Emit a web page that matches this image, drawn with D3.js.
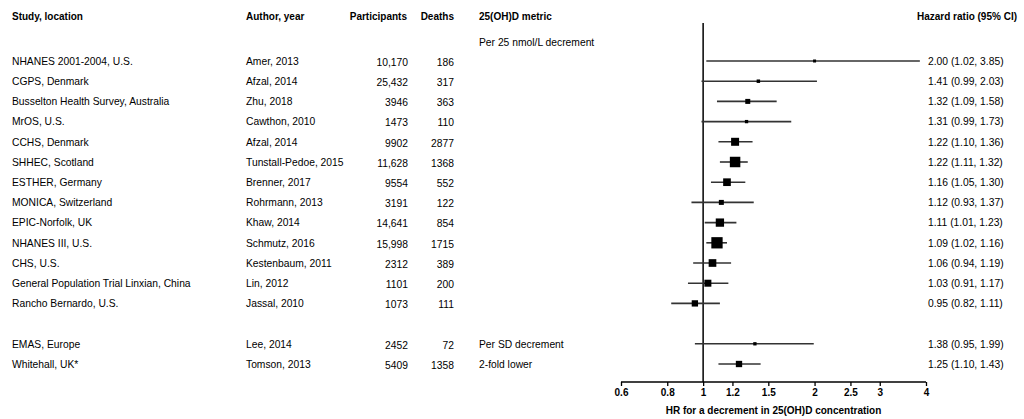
<!DOCTYPE html>
<html>
<head>
<meta charset="utf-8">
<script src="https://cdn.jsdelivr.net/npm/d3@7"></script>
<style>
  html, body { margin: 0; padding: 0; background: #fff; }
  svg { display: block; }
  text { font-family: "Liberation Sans", Arial, Helvetica, sans-serif; fill: #000; }
</style>
</head>
<body>
<svg id="chart" width="1024" height="419"></svg>
<script>
// ---- Data ----
const studies = [
  "NHANES 2001-2004, U.S.", "CGPS, Denmark", "Busselton Health Survey, Australia",
  "MrOS, U.S.", "CCHS, Denmark", "SHHEC, Scotland", "ESTHER, Germany",
  "MONICA, Switzerland", "EPIC-Norfolk, UK", "NHANES III, U.S.", "CHS, U.S.",
  "General Population Trial Linxian, China", "Rancho Bernardo, U.S.",
  "EMAS, Europe", "Whitehall, UK*"
];
const authors = [
  "Amer, 2013", "Afzal, 2014", "Zhu, 2018", "Cawthon, 2010", "Afzal, 2014",
  "Tunstall-Pedoe, 2015", "Brenner, 2017", "Rohrmann, 2013", "Khaw, 2014",
  "Schmutz, 2016", "Kestenbaum, 2011", "Lin, 2012", "Jassal, 2010",
  "Lee, 2014", "Tomson, 2013"
];
const participants = [10170, 25432, 3946, 1473, 9902, 11628, 9554, 3191, 14641, 15998, 2312, 1101, 1073, 2452, 5409];
const deaths = [186, 317, 363, 110, 2877, 1368, 552, 122, 854, 1715, 389, 200, 111, 72, 1358];
const hr = [2.00, 1.41, 1.32, 1.31, 1.22, 1.22, 1.16, 1.12, 1.11, 1.09, 1.06, 1.03, 0.95, 1.38, 1.25];
const lo = [1.02, 0.99, 1.09, 0.99, 1.10, 1.11, 1.05, 0.93, 1.01, 1.02, 0.94, 0.91, 0.82, 0.95, 1.10];
const hi = [3.85, 2.03, 1.58, 1.73, 1.36, 1.32, 1.30, 1.37, 1.23, 1.16, 1.19, 1.17, 1.11, 1.99, 1.43];
// relative study weight (marker area)
const weights = [0.9, 1.2, 2.5, 1.1, 6.4, 11.0, 5.9, 2.5, 6.9, 12.8, 5.9, 4.9, 4.0, 1.1, 4.0];
// row slot of each study (a blank slot separates the two groups)
const rowSlot = [0, 1, 2, 3, 4, 5, 6, 7, 8, 9, 10, 11, 12, 14, 15];
const metricLabels = [
  { slot: -1, text: "Per 25 nmol/L decrement" },
  { slot: 14, text: "Per SD decrement" },
  { slot: 15, text: "2-fold lower" }
];
const headers = ["Study, location", "Author, year", "Participants", "Deaths", "25(OH)D metric", "Hazard ratio (95% CI)"];
const tickValues = [0.6, 0.8, 1, 1.2, 1.5, 2, 2.5, 3, 4];
const axisTitle = "HR for a decrement in 25(OH)D concentration";

// ---- Layout ----
const svg = d3.select("#chart");
const x = d3.scaleLog().domain([0.6, 4]).range([621, 926]);
const y = d3.scaleLinear().domain([0, 15]).range([61, 364]);
const size = d3.scaleSqrt().domain([0, d3.max(weights)]).range([0, 11.3]);
const axisY = 382;
const fs = 10.3;
const base = 3.7; // center -> baseline offset

const fmtN = n => n >= 10000 ? d3.format(",")(n) : String(n);
const fmtHR = (h, l, u) => `${h.toFixed(2)} (${l.toFixed(2)}, ${u.toFixed(2)})`;

// headers
const hdrX = [12, 246, 407, 454, 479, 1017];
const hdrAnchor = ["start", "start", "end", "end", "start", "end"];
svg.append("g").selectAll("text").data(headers).join("text")
  .attr("x", (d, i) => hdrX[i])
  .attr("y", 16.7 + 3.6)
  .attr("text-anchor", (d, i) => hdrAnchor[i])
  .attr("font-size", 10)
  .attr("font-weight", "bold")
  .text(d => d);

const rows = studies.map((s, i) => ({
  study: s, author: authors[i], n: participants[i], d: deaths[i],
  hr: hr[i], lo: lo[i], hi: hi[i], w: weights[i], slot: rowSlot[i]
}));

const tg = svg.append("g").attr("font-size", fs);
tg.selectAll("text.study").data(rows).join("text").attr("class", "study")
  .attr("x", 12).attr("y", d => y(d.slot) + base).attr("font-size", fs).text(d => d.study);
tg.selectAll("text.author").data(rows).join("text").attr("class", "author")
  .attr("x", 246).attr("y", d => y(d.slot) + base).attr("font-size", fs).text(d => d.author);
tg.selectAll("text.n").data(rows).join("text").attr("class", "n")
  .attr("x", 408).attr("y", d => y(d.slot) + base + 1).attr("text-anchor", "end")
  .attr("font-size", fs).text(d => fmtN(d.n));
tg.selectAll("text.d").data(rows).join("text").attr("class", "d")
  .attr("x", 454).attr("y", d => y(d.slot) + base + 1).attr("text-anchor", "end")
  .attr("font-size", fs).text(d => d.d);
tg.selectAll("text.metric").data(metricLabels).join("text").attr("class", "metric")
  .attr("x", 479).attr("y", d => y(d.slot) + (d.slot < 0 ? 1.5 : 0) + base)
  .attr("font-size", fs).text(d => d.text);
tg.selectAll("text.hr").data(rows).join("text").attr("class", "hr")
  .attr("x", 928).attr("y", d => y(d.slot) + base).attr("font-size", fs)
  .text(d => fmtHR(d.hr, d.lo, d.hi));

// reference line at HR = 1
svg.append("line")
  .attr("x1", x(1)).attr("x2", x(1))
  .attr("y1", 23).attr("y2", axisY)
  .attr("stroke", "#000").attr("stroke-width", 1.5);

// CI lines
const pg = svg.append("g");
pg.selectAll("line.ci").data(rows).join("line").attr("class", "ci")
  .attr("x1", d => x(d.lo)).attr("x2", d => x(d.hi))
  .attr("y1", d => y(d.slot)).attr("y2", d => y(d.slot))
  .attr("stroke", "#333").attr("stroke-width", 1.6);

// point estimates
pg.selectAll("rect.pt").data(rows).join("rect").attr("class", "pt")
  .attr("x", d => x(d.hr) - size(d.w) / 2)
  .attr("y", d => y(d.slot) - size(d.w) / 2)
  .attr("width", d => size(d.w))
  .attr("height", d => size(d.w))
  .attr("fill", "#000");

// axis
const axis = d3.axisBottom(x)
  .tickValues(tickValues)
  .tickFormat(d3.format("~g"))
  .tickSizeOuter(0)
  .tickSizeInner(4)
  .tickPadding(3);
const ag = svg.append("g").attr("transform", `translate(0,${axisY})`).call(axis);
ag.select(".domain").attr("stroke", "#000").attr("stroke-width", 1.5)
  .attr("d", `M${x(0.6)},0H${x(4)}`);
ag.selectAll(".tick line").attr("stroke", "#000").attr("stroke-width", 1.3);
ag.selectAll(".tick text")
  .attr("font-family", "Liberation Sans, Arial, sans-serif")
  .attr("font-size", 10).attr("font-weight", "bold").attr("fill", "#000");

svg.append("text")
  .attr("x", (x(0.6) + x(4)) / 2)
  .attr("y", 410 + 3.6)
  .attr("text-anchor", "middle")
  .attr("font-size", 10)
  .attr("font-weight", "bold")
  .text(axisTitle);
</script>
</body>
</html>
